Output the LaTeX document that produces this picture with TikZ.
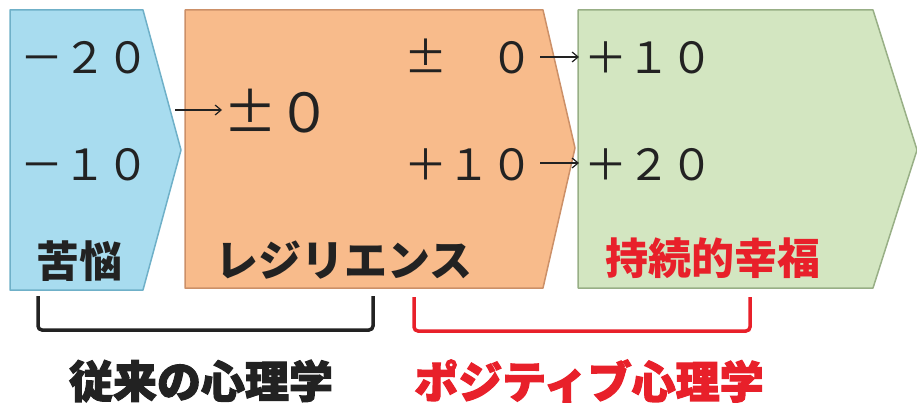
\documentclass[tikz,border=0pt]{standalone}
\usepackage{fontspec}
\usetikzlibrary{arrows.meta}
\newfontfamily\cjk{Noto Sans CJK JP}
\newfontfamily\cjkheavy{Noto Sans CJK JP}[BoldFeatures={FakeBold=2.5}]
\definecolor{bluefill}{HTML}{A8DCEF}
\definecolor{blueedge}{HTML}{6FB0C8}
\definecolor{orangefill}{HTML}{F8BB8B}
\definecolor{orangeedge}{HTML}{CC9068}
\definecolor{greenfill}{HTML}{D3E6C1}
\definecolor{greenedge}{HTML}{98AF86}
\definecolor{txt}{HTML}{222222}
\definecolor{redtxt}{HTML}{E8202A}
\begin{document}
\begin{tikzpicture}[x=1pt,y=-1pt,
  num/.style={anchor=base,inner sep=0pt,text=txt,font=\cjk\fontsize{43}{43}\selectfont},
  bignum/.style={anchor=base,inner sep=0pt,text=txt,font=\cjk\fontsize{54}{54}\selectfont},
  label/.style={inner sep=0pt,text=txt,font=\cjk\bfseries\fontsize{43}{43}\selectfont},
  heavy/.style={inner sep=0pt,font=\cjkheavy\bfseries\fontsize{44}{44}\selectfont},
  conn/.style={line width=1.2pt,draw=txt,-{Straight Barb[length=6pt,width=10pt]}},
  bracket/.style={line width=3.5pt,rounded corners=4pt}
]
\useasboundingbox (0,0) rectangle (917,404);
% shapes
\draw[fill=bluefill,draw=blueedge,line width=1.5pt,line join=round] (10,10) -- (143,10) -- (181,150) -- (143,290) -- (10,290) -- cycle;
\draw[fill=orangefill,draw=orangeedge,line width=1.5pt,line join=round] (185,10) -- (543,10) -- (575,148) -- (543,288) -- (185,288) -- cycle;
\draw[fill=greenfill,draw=greenedge,line width=1.5pt,line join=round] (578,10) -- (873,10) -- (917,150) -- (873,288) -- (578,288) -- cycle;
% numbers
\node[num] (m20) at (85,74) {－２０};
\node[num] (m10) at (85,180) {－１０};
\node[bignum] (z0) at (277,132) {±０};
\node[num] (o0) at (469,74) {±　０};
\node[num] (o10) at (469,180) {＋１０};
\node[num] (g10) at (649,74) {＋１０};
\node[num] (g20) at (649,180) {＋２０};
\coordinate (zs) at (175,110);
\coordinate (zt) at (222,110);
\draw[conn] (zs) -- (zt);
\coordinate (a1s) at (540,57);
\coordinate (a1e) at (579,57);
\coordinate (a2s) at (540,163);
\coordinate (a2e) at (579,163);
\draw[conn] (a1s) -- (a1e);
\draw[conn] (a2s) -- (a2e);
% labels
\node[label] (kunou) at (79,261) {苦悩};
\node[label] (resil) at (344,260) {レジリエンス};
\node[label,text=redtxt] (jizoku) at (713,258) {持続的幸福};
% brackets
\coordinate (b1a) at (38,296);
\coordinate (b1b) at (373,296);
\draw[bracket,draw=txt] (b1a) -- (38,330) -- (373,330) -- (b1b);
\coordinate (b2a) at (414,297);
\coordinate (b2b) at (750,297);
\draw[bracket,draw=redtxt] (b2a) -- (414,331) -- (750,331) -- (b2b);
% bottom labels
\node[heavy,text=txt] (juurai) at (201,381) {従来の心理学};
\node[heavy,text=redtxt] (posi) at (589,381) {ポジティブ心理学};
\end{tikzpicture}
\end{document}
